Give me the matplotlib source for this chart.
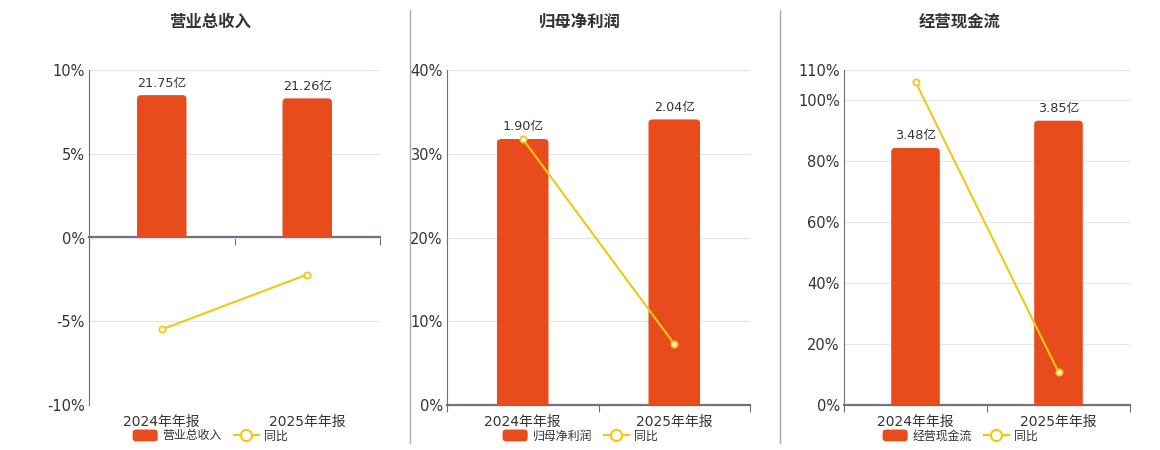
import matplotlib
matplotlib.use("Agg")
import matplotlib.pyplot as plt
from matplotlib.lines import Line2D
from matplotlib.patches import Patch, FancyBboxPatch, Rectangle
from matplotlib.legend_handler import HandlerPatch

plt.rcParams['font.family'] = ['DejaVu Sans', 'Noto Sans CJK SC']

categories = ["2024年年报", "2025年年报"]

titles = ["营业总收入", "归母净利润", "经营现金流"]
bar_values = [[21.75, 21.26], [1.90, 2.04], [3.48, 3.85]]
bar_labels = [["21.75亿", "21.26亿"], ["1.90亿", "2.04亿"], ["3.48亿", "3.85亿"]]
yoy_values = [[-5.49, -2.21], [31.76, 7.28], [106.1, 10.8]]
pct_ticks = [[-10, -5, 0, 5, 10], [0, 10, 20, 30, 40], [0, 20, 40, 60, 80, 100, 110]]
legend_name = "同比"

W, H = 1160, 450
BAR_COLOR = "#E84C1C"
LINE_COLOR = "#F2C80F"
GRID_COLOR = "#E3E6EF"
AXIS_COLOR = "#6E7079"
TEXT_COLOR = "#333333"

# layout (pixels)
axes_px = [(89, 380), (447, 750), (844, 1130)]
top_px, bot_px = 70, 405
bar_ylims = [(-25.59, 25.59), (0, 2.393), (0, 4.536)]
title_x = [210, 580, 960]
legend_x = [210, 580, 960]
BAR_W = 0.34
ROUND_PX = 4


class RoundPatchHandler(HandlerPatch):
    def create_artists(self, legend, orig_handle, xdescent, ydescent, width, height,
                       fontsize, trans):
        p = FancyBboxPatch((-xdescent, -ydescent), width, height,
                           boxstyle="round,pad=0,rounding_size=2.5",
                           facecolor=orig_handle.get_facecolor(), edgecolor='none',
                           transform=trans)
        return [p]


fig = plt.figure(figsize=(W / 100, H / 100), dpi=100)

for i in range(3):
    l, r = axes_px[i]
    rect = [l / W, (H - bot_px) / H, (r - l) / W, (bot_px - top_px) / H]
    ax = fig.add_axes(rect)
    ticks = pct_ticks[i]
    ax.set_ylim(min(ticks), max(ticks))
    ax.set_xlim(-0.5, 1.5)
    ax.set_yticks(ticks)
    ax.set_yticklabels([f"{t}%" for t in ticks])
    ax.set_xticks([0, 1])
    ax.set_xticklabels(categories)
    ax.tick_params(axis='x', length=0, labelsize=10, colors=TEXT_COLOR, pad=7)
    ax.tick_params(axis='y', length=0, labelsize=10.5, colors=TEXT_COLOR, pad=3)
    ax.grid(axis='y', color=GRID_COLOR, linewidth=0.8)
    ax.set_axisbelow(True)
    for s in ['top', 'right', 'bottom']:
        ax.spines[s].set_visible(False)
    ax.spines['left'].set_color(AXIS_COLOR)
    ax.spines['left'].set_linewidth(0.8)

    # bars
    axb = ax.twinx()
    ylo, yhi = bar_ylims[i]
    axb.set_ylim(ylo, yhi)
    axb.set_xlim(-0.5, 1.5)
    axb.axis('off')
    x_per_px = 2.0 / (r - l)
    y_per_px = (yhi - ylo) / (bot_px - top_px)
    rx = ROUND_PX * x_per_px
    ry = ROUND_PX * y_per_px
    for xc, h, lab in zip([0, 1], bar_values[i], bar_labels[i]):
        x0 = xc - BAR_W / 2
        p = FancyBboxPatch((x0, -2 * ry), BAR_W, h + 2 * ry,
                           boxstyle=f"round,pad=0,rounding_size={rx}",
                           mutation_aspect=y_per_px / x_per_px,
                           facecolor=BAR_COLOR, edgecolor='none')
        axb.add_patch(p)
        clip = Rectangle((x0 - 0.1, 0), BAR_W + 0.2, h * 2, transform=axb.transData)
        p.set_clip_path(clip)
        axb.annotate(lab, (xc, h), xytext=(0, 4), textcoords='offset points',
                     ha='center', va='bottom', fontsize=9.2, color=TEXT_COLOR)

    # zero axis line with boundary ticks
    zero_frac = (0 - min(ticks)) / (max(ticks) - min(ticks))
    sec = ax.secondary_xaxis(zero_frac)
    sec.xaxis.set_ticks_position('bottom')
    sec.set_xticks([-0.5, 0.5, 1.5])
    sec.set_xticklabels([])
    sec.tick_params(axis='x', direction='out', length=5, color=AXIS_COLOR, width=0.8)
    for s in ['bottom', 'top']:
        sec.spines[s].set_color(AXIS_COLOR)
        sec.spines[s].set_linewidth(1.6)

    # yoy line
    axl = ax.twinx()
    axl.set_ylim(min(ticks), max(ticks))
    axl.axis('off')
    axl.plot([0, 1], yoy_values[i], color=LINE_COLOR, linewidth=1.5, marker='o',
             markersize=4.5, markerfacecolor='white', markeredgecolor=LINE_COLOR,
             markeredgewidth=1.3)

    fig.text(title_x[i] / W, 1 - 22 / H, titles[i], ha='center', va='center',
             fontsize=11.8, fontweight='bold', color=TEXT_COLOR)

    bar_handle = Patch(facecolor=BAR_COLOR, edgecolor='none', label=titles[i])
    line_handle = Line2D([], [], color=LINE_COLOR, linewidth=1.5, marker='o', markersize=8,
                         markerfacecolor='white', markeredgecolor=LINE_COLOR,
                         markeredgewidth=1.5, label=legend_name)
    leg = fig.legend(handles=[bar_handle, line_handle], loc='center', ncol=2, frameon=False,
                     bbox_to_anchor=(legend_x[i] / W, 1 - 436 / H),
                     fontsize=8.6, handlelength=2.1, handleheight=1.15,
                     columnspacing=1.0, handletextpad=0.4, borderpad=0,
                     handler_map={Patch: RoundPatchHandler()})
    for t in leg.get_texts():
        t.set_color(TEXT_COLOR)

for x in (410, 780):
    fig.add_artist(Line2D([x / W, x / W], [1 - 10 / H, 1 - 443 / H],
                          transform=fig.transFigure, color="#AAAAAA", linewidth=1))

fig.savefig("out.png", dpi=100)
